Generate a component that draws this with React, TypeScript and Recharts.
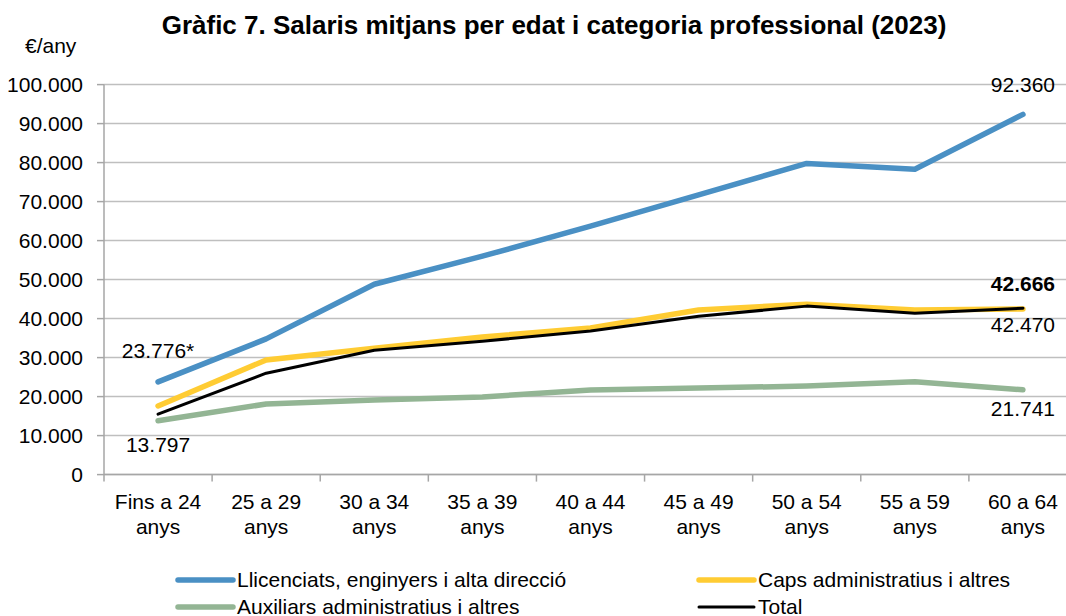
import React from 'react';
import { LineChart, Line, XAxis, YAxis, CartesianGrid, LabelList } from 'recharts';

const CATEGORIES = [
  'Fins a 24 anys', '25 a 29 anys', '30 a 34 anys', '35 a 39 anys', '40 a 44 anys',
  '45 a 49 anys', '50 a 54 anys', '55 a 59 anys', '60 a 64 anys',
];

const LLICENCIATS = [23776, 34800, 48800, 56000, 63700, 71700, 79800, 78300, 92360];
const CAPS = [17600, 29400, 32400, 35300, 37600, 42200, 43700, 42200, 42470];
const AUXILIARS = [13797, 18100, 19100, 19900, 21700, 22200, 22700, 23800, 21741];
const TOTAL = [15500, 26000, 31900, 34200, 36800, 40600, 43200, 41400, 42666];

const Y_TICKS = [0, 10000, 20000, 30000, 40000, 50000, 60000, 70000, 80000, 90000, 100000];

const FONT = '"Liberation Sans", Arial, sans-serif';

const data = CATEGORIES.map((c, i) => ({
  pos: i + 0.5,
  llic: LLICENCIATS[i],
  caps: CAPS[i],
  aux: AUXILIARS[i],
  total: TOTAL[i],
}));

// boundaries (integers) get a tick mark, centres (x.5) get the label
const xTicks: number[] = [];
for (let i = 0; i <= CATEGORIES.length; i++) {
  xTicks.push(i);
  if (i < CATEGORIES.length) xTicks.push(i + 0.5);
}

const fmt = (v: number) => v.toLocaleString('de-DE');

function renderXTick(props: any) {
  const { x, y, payload } = props;
  const v = payload.value;
  if (Number.isInteger(v)) {
    return <line x1={x} x2={x} y1={y} y2={y + 7} stroke="#A6A6A6" strokeWidth={1.5} />;
  }
  const label = CATEGORIES[Math.floor(v)];
  const cut = label.lastIndexOf(' ');
  return (
    <text x={x} y={y} textAnchor="middle" fontFamily={FONT} fontSize={21} fill="#000">
      <tspan x={x} dy={34.5}>{label.slice(0, cut)}</tspan>
      <tspan x={x} dy={25}>{label.slice(cut + 1)}</tspan>
    </text>
  );
}

function makeLabel(which: number[], dys: number[], suffix: string[], bold = false) {
  return (props: any) => {
    const { x, y, value, index } = props;
    const k = which.indexOf(index);
    if (k < 0) return null;
    return (
      <text x={x} y={y + dys[k]} textAnchor="middle" fontFamily={FONT} fontSize={21}
        fontWeight={bold ? 'bold' : 'normal'} fill="#000">
        {fmt(value) + suffix[k]}
      </text>
    );
  };
}

const SERIES = [
  { key: 'llic', name: 'Llicenciats, enginyers i alta direcció', color: '#4A90C4', width: 5.5 },
  { key: 'caps', name: 'Caps administratius i altres', color: '#FFCC33', width: 5.5 },
  { key: 'aux', name: 'Auxiliars administratius i altres', color: '#93B594', width: 5.5 },
  { key: 'total', name: 'Total', color: '#000000', width: 3 },
];

const LEGEND_POS = [
  { x: 178, y: 580 },
  { x: 699, y: 580 },
  { x: 178, y: 607 },
  { x: 699, y: 607 },
];

export default function App() {
  return (
    <div style={{ position: 'absolute', left: 0, top: 0, width: 1066, height: 616, overflow: 'hidden', background: '#fff' }}>
      <LineChart width={1090} height={616} data={data}
        margin={{ top: 84.6, right: 13, bottom: 140.4, left: 0 }}>
        <CartesianGrid vertical={false} stroke="#BFBFBF" strokeWidth={1.5} />
        <XAxis dataKey="pos" type="number" domain={[0, CATEGORIES.length]} ticks={xTicks}
          interval={0} height={1} tickLine={false} tickSize={0} tickMargin={0}
          allowDecimals
          axisLine={{ stroke: '#A6A6A6', strokeWidth: 1.5 }} tick={renderXTick} />
        <YAxis width={104} domain={[0, 100000]} ticks={Y_TICKS} interval={0}
          tickFormatter={fmt} tickSize={7} tickMargin={14}
          tickLine={{ stroke: '#A6A6A6', strokeWidth: 1.5 }}
          axisLine={{ stroke: '#A6A6A6', strokeWidth: 1.5 }}
          tick={{ fontFamily: FONT, fontSize: 21, fill: '#000' }} />
        <Line dataKey="llic" stroke="#4A90C4" strokeWidth={5.5} dot={false} strokeLinecap="round"
          strokeLinejoin="round" isAnimationActive={false}>
          <LabelList dataKey="llic" content={makeLabel([0, 8], [-24, -22], ['*', ''])} />
        </Line>
        <Line dataKey="aux" stroke="#93B594" strokeWidth={5.5} dot={false} strokeLinecap="round"
          strokeLinejoin="round" isAnimationActive={false}>
          <LabelList dataKey="aux" content={makeLabel([0, 8], [31, 26], ['', ''])} />
        </Line>
        <Line dataKey="caps" stroke="#FFCC33" strokeWidth={5.5} dot={false} strokeLinecap="round"
          strokeLinejoin="round" isAnimationActive={false}>
          <LabelList dataKey="caps" content={makeLabel([8], [23], [''])} />
        </Line>
        <Line dataKey="total" stroke="#000000" strokeWidth={3} dot={false} strokeLinecap="round"
          strokeLinejoin="round" isAnimationActive={false}>
          <LabelList dataKey="total" content={makeLabel([8], [-17.5], [''], true)} />
        </Line>
      </LineChart>
      <svg width={1066} height={616} style={{ position: 'absolute', left: 0, top: 0, pointerEvents: 'none' }}>
        <text x={554} y={34.3} textAnchor="middle" fontFamily={FONT} fontSize={26} fontWeight="bold">
          Gràfic 7. Salaris mitjans per edat i categoria professional (2023)
        </text>
        <text x={25} y={52.7} fontFamily={FONT} fontSize={21}>€/any</text>
        {SERIES.map((s, i) => (
          <g key={s.key}>
            <line x1={LEGEND_POS[i].x} x2={LEGEND_POS[i].x + 55} y1={LEGEND_POS[i].y} y2={LEGEND_POS[i].y}
              stroke={s.color} strokeWidth={s.width} strokeLinecap="round" />
            <text x={LEGEND_POS[i].x + 59} y={LEGEND_POS[i].y + 7} fontFamily={FONT} fontSize={21}>{s.name}</text>
          </g>
        ))}
      </svg>
    </div>
  );
}
